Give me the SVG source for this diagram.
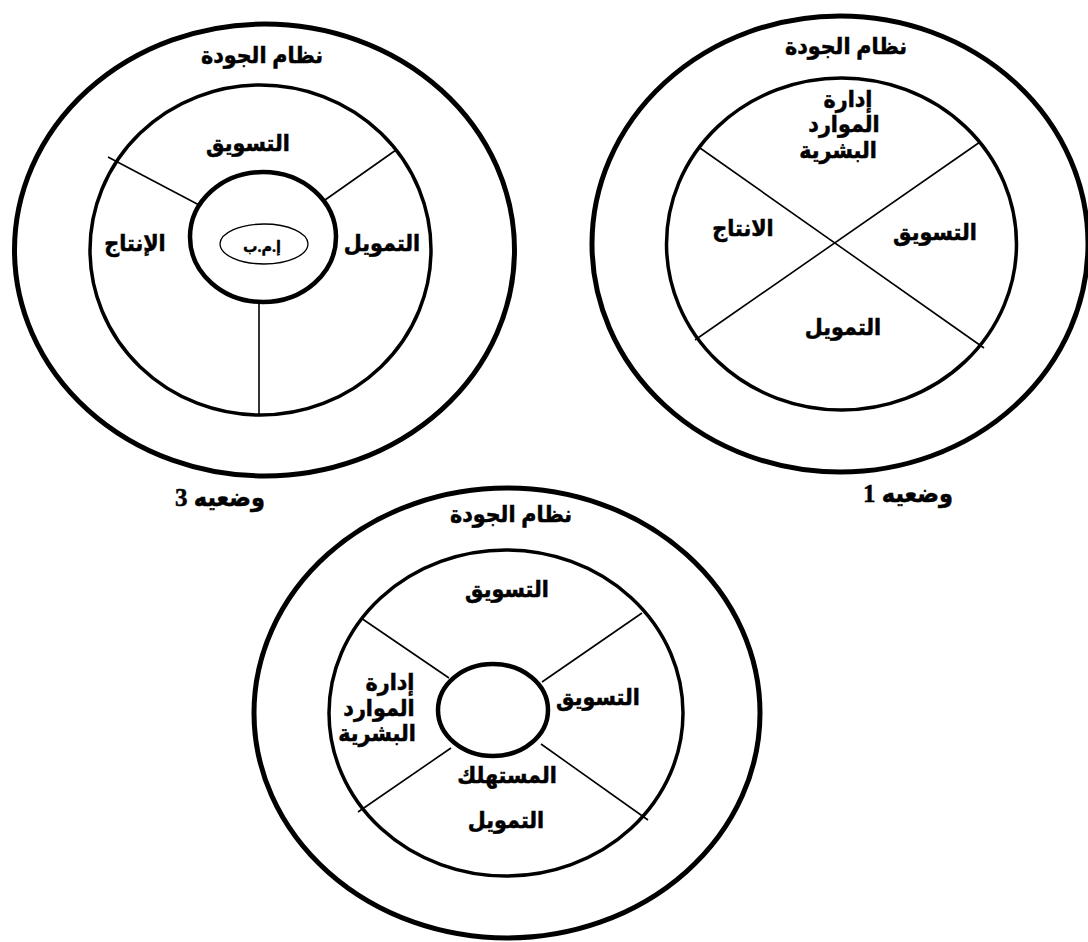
<svg xmlns="http://www.w3.org/2000/svg" width="1088" height="942" viewBox="0 0 1088 942">
  <style>
    .outer { fill: none; stroke: #000; stroke-width: 5; }
    .inner { fill: none; stroke: #000; stroke-width: 3.5; }
    .core { fill: none; stroke: #000; stroke-width: 4.5; }
    .tag { fill: none; stroke: #000; stroke-width: 1.3; }
    .div { stroke: #000; stroke-width: 1.6; fill: none; }
    text { font-family: "Liberation Serif", "DejaVu Sans Condensed", "DejaVu Sans", sans-serif; font-weight: bold; fill: #000; stroke: #000; stroke-width: 0.5; text-anchor: middle; }
    .t { font-size: 23px; }
    .s { font-size: 16px; stroke-width: 0.3; }
    .cap { font-size: 25px; }
  </style>
  <rect x="0" y="0" width="1088" height="942" fill="#fff"/>

  <!-- Situation 3 (top-left) -->
  <g id="situation3">
    <ellipse class="outer" cx="264.5" cy="250" rx="250" ry="226"/>
    <ellipse class="inner" cx="260.5" cy="250" rx="170.5" ry="165"/>
    <ellipse class="core" cx="263" cy="237" rx="73" ry="65"/>
    <ellipse class="tag" cx="264" cy="244" rx="44" ry="20"/>
    <text class="t" x="262" y="63">نظام الجودة</text>
    <text class="t" x="248" y="151">التسويق</text>
    <text class="t" x="135" y="251">الإنتاج</text>
    <text class="t" x="382" y="251">التمويل</text>
    <text class="s" x="262" y="252">إ.م.ب</text>
    <text class="cap" x="220" y="506">وضعيه 3</text>
  </g>

  <!-- Situation 1 (top-right) -->
  <g id="situation1">
    <ellipse class="outer" cx="840" cy="244" rx="248" ry="228"/>
    <ellipse class="inner" cx="841.5" cy="244" rx="175" ry="166"/>
    <text class="t" x="846" y="54">نظام الجودة</text>
    <text class="t" x="848" y="107">إدارة</text>
    <text class="t" x="844" y="132">الموارد</text>
    <text class="t" x="838" y="158">البشرية</text>
    <text class="t" x="743" y="236">الانتاج</text>
    <text class="t" x="935" y="240">التسويق</text>
    <text class="t" x="843" y="335">التمويل</text>
    <text class="cap" x="908" y="502">وضعيه 1</text>
  </g>

  <!-- Bottom situation -->
  <g id="situation-bottom">
    <ellipse class="outer" cx="507" cy="713" rx="253" ry="225"/>
    <ellipse class="inner" cx="506" cy="713" rx="177" ry="163"/>
    <ellipse class="core" cx="493" cy="710" rx="55" ry="46"/>
    <text class="t" x="511" y="522">نظام الجودة</text>
    <text class="t" x="507" y="597">التسويق</text>
    <text class="t" x="390" y="690">إدارة</text>
    <text class="t" x="379" y="716">الموارد</text>
    <text class="t" x="377" y="741">البشرية</text>
    <text class="t" x="598" y="705">التسويق</text>
    <text class="t" x="507" y="783">المستهلك</text>
    <text class="t" x="506" y="828">التمويل</text>
  </g>

  <!-- Dividers -->
  <g id="dividers">
    <line class="div" x1="108" y1="157" x2="201" y2="206"/>
    <line class="div" x1="396" y1="150" x2="325" y2="200"/>
    <line class="div" x1="259" y1="302" x2="259" y2="415"/>

    <line class="div" x1="700" y1="148" x2="984" y2="348"/>
    <line class="div" x1="980" y1="142" x2="695" y2="340"/>

    <line class="div" x1="361" y1="618" x2="449" y2="678"/>
    <line class="div" x1="642" y1="613" x2="542" y2="682"/>
    <line class="div" x1="451" y1="748" x2="358" y2="812"/>
    <line class="div" x1="541" y1="744" x2="648" y2="820"/>
  </g>
</svg>
